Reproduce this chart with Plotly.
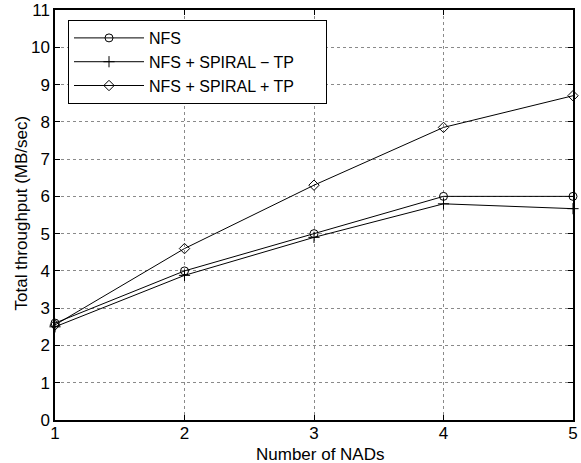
import plotly.graph_objects as go

nads = [1, 2, 3, 4, 5]
nfs = [2.6, 4.0, 5.0, 6.0, 6.0]
spiral_no_tp = [2.5, 3.88, 4.9, 5.8, 5.67]
spiral_tp = [2.55, 4.6, 6.3, 7.85, 8.7]

series = [
    ("NFS", nfs, "circle-open"),
    ("NFS + SPIRAL \u2212 TP\u00a0\u00a0\u00a0\u00a0\u00a0\u00a0", spiral_no_tp, "cross-thin-open"),
    ("NFS + SPIRAL + TP", spiral_tp, "diamond-open"),
]

fig = go.Figure()
for name, vals, sym in series:
    fig.add_trace(go.Scatter(
        x=nads, y=vals, name=name, mode="lines+markers",
        line=dict(color="black", width=1),
        marker=dict(symbol=sym, size=8, color="black", line=dict(color="black", width=1)),
        cliponaxis=False,
    ))

axis_common = dict(
    showline=True, linecolor="black", linewidth=1.5, mirror="ticks",
    ticks="inside", ticklen=5, tickcolor="black",
    showgrid=True, gridcolor="#8a8a8a", griddash="dot", gridwidth=1,
    zeroline=False, tickfont=dict(size=17, color="black"),
    automargin=False,
)

fig.update_xaxes(range=[1, 5], dtick=1, tick0=1, ticklabelstandoff=-3, **axis_common)
fig.update_yaxes(range=[0, 11], dtick=1, tick0=0, **axis_common)

fig.add_annotation(text="Number of NADs", xref="paper", yref="paper",
                   x=0.512, y=-0.083, xanchor="center", yanchor="middle",
                   showarrow=False, font=dict(size=17, color="black"))
fig.add_annotation(text="Total throughput (MB/sec)", xref="paper", yref="paper",
                   x=-0.0647, y=0.505, xanchor="center", yanchor="middle",
                   textangle=-90, showarrow=False, font=dict(size=17, color="black"))

fig.update_layout(
    width=581, height=463,
    margin=dict(l=55, r=8, t=10, b=43),
    paper_bgcolor="white", plot_bgcolor="white",
    font=dict(family="Liberation Sans, Arial, sans-serif", color="black"),
    showlegend=True,
    legend=dict(x=0.0251, y=0.9756, xanchor="left", yanchor="top",
                bgcolor="white", bordercolor="black", borderwidth=1,
                font=dict(size=16, color="black"), itemwidth=70,
                tracegroupgap=0, traceorder="normal"),
)

fig.write_html("out.html", config={"displayModeBar": False},
               post_script="document.body.style.margin='0';")
